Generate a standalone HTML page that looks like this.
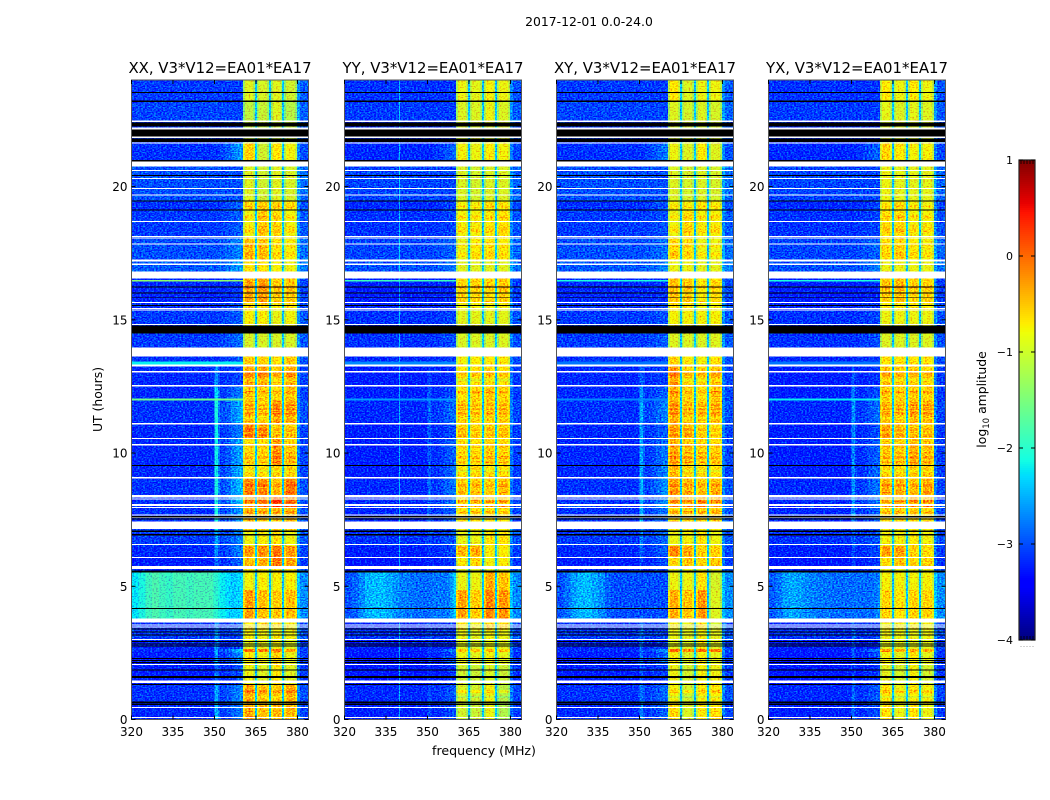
<!DOCTYPE html>
<html lang="en">
<head>
<meta charset="utf-8">
<title>2017-12-01 0.0-24.0</title>
<style>
html,body{margin:0;padding:0;background:#fff;}
svg{display:block;font-family:"DejaVu Sans","Liberation Sans",sans-serif;}
</style>
</head>
<body>
<svg id="fig" xmlns="http://www.w3.org/2000/svg" width="1050" height="800" viewBox="0 0 1050 800">
  <defs>
    <filter id="speckle" x="0" y="0" width="100%" height="100%" color-interpolation-filters="sRGB">
      <feTurbulence type="fractalNoise" baseFrequency="0.55 0.8" numOctaves="1" seed="4" result="n"/>
      <feColorMatrix in="n" type="matrix" values="0 0 0 0 .5  1 0 0 0 0  0 0 0 0 .5  0 0 0 0 1" result="g"/>
      <feComposite in="SourceGraphic" in2="g" operator="arithmetic" k1="0" k2="1" k3="1.6" k4="-0.8"/>
    </filter>
  </defs>
  <rect width="1050" height="800" fill="#fff"/>
  <text x="589" y="26" font-size="12.4" text-anchor="middle" fill="#000">2017-12-01 0.0-24.0</text>
  <text x="484" y="755" font-size="12.6" text-anchor="middle" fill="#000">frequency (MHz)</text>
  <text transform="translate(102,399.5) rotate(-90)" font-size="12.4" text-anchor="middle" fill="#000">UT (hours)</text>
  <text transform="translate(986,399.5) rotate(-90)" font-size="12.4" text-anchor="middle" fill="#000">log<tspan font-size="8.6" dy="3">10</tspan><tspan dy="-3"> amplitude</tspan></text>
  <g id="panels"></g>
  <g id="colorbar"></g>
</svg>
<script>
/* ---------- chart data ---------- */
const panelTitles = ["XX, V3*V12=EA01*EA17","YY, V3*V12=EA01*EA17","XY, V3*V12=EA01*EA17","YX, V3*V12=EA01*EA17"];
const freqTicks = [320,335,350,365,380];
const hourTicks = [0,5,10,15,20];
const colorTicks = [1,0,-1,-2,-3,-4];

/* frequency bin edges, MHz */
const freqEdges = [320,322.5,325,327.5,330,332.5,335,337.5,339.7,340.1,342.5,345,349.5,350,351.3,352,354,356,358,359.5,360.3,
  361,363.9,364.6,365.3,366,369,369.7,370.4,371.1,373.9,374.5,375.2,375.9,379.2,379.9,381,384];

/* upper UT (hours) of each data segment; the last one ends at 0 */
const rowTops = [24,23.19,22.44,21.65,20.94,19.48,19.10,18.09,17.23,16.55,15.65,15.35,14.79,14.49,13.97,13.63,13.25,12.50,11.98,11.08,10.55,9.54,9.02,8.38,7.93,7.44,7.10,6.51,6.13,5.76,5.53,4.86,3.73,3.36,2.98,2.64,2.53,2.08,1.33,0.62];

/* log10 amplitude of the off-band background per segment */
const rowBackground = [-3.0,-2.95,-3,-3.05,-2.9,-3.05,-3,-2.9,-2.85,-3.1,-3.05,-3,-2.95,-3,-3.05,-3.05,-3.1,-3.1,-3.05,-3.1,-3.1,-3.1,-3.05,-3.05,-3.05,-3,-3,-3.1,-3.15,-3.1,-3,-3,-3.05,-3,-3.1,-3.1,-3.15,-3.15,-3.05,-3.1];
/* rise below 360 MHz, per segment */
const rowEdgeRise = [0,0,0,.6,0,.3,.2,.3,.4,.1,.2,.2,.2,.3,.3,.2,.2,.5,.7,.5,.7,.8,.8,.8,.6,.4,.4,.5,.4,.3,0,0,.2,.1,.1,1,.6,.3,.5,.5];
/* strength of the 351 MHz interference line, per segment */
const rowLine351 = [0,0,0,0,0,0,0,0,0,0,0,0,0,0,0,0,.5,.9,1,1,1,1,1,1,1,.8,.5,.5,.4,.3,0,0,.4,.5,.5,.6,.6,.4,.6,.7];
const panelBackgroundOffset = [-.1,-.15,-.1,-.15];
const panelBandOffset = [-.03,-.06,-.05,-.05];
const panelEdgeRise = [.9,.5,.6,.5];
const panelLine351 = [1,.3,.6,.5];
const panelLine340 = [0,1,0,0];
const stormRows = [30,31];

/* background spectrum during the 4-5.5 h event, 20 bins below 360 MHz */
const stormXX = [-2.25,-2.1,-1.9,-1.8,-1.9,-1.95,-1.85,-1.85,-1.9,-1.9,-1.85,-1.85,-1.95,-2.0,-2.1,-2.2,-2.3,-2.4,-2.3,-2.3];
const stormYY = [-3,-2.9,-2.7,-2.5,-2.45,-2.45,-2.55,-2.65,-2.75,-2.75,-2.8,-2.85,-2.85,-2.85,-2.85,-2.8,-2.8,-2.8,-2.6,-2.35];
const stormXY = [-3,-2.85,-2.6,-2.5,-2.45,-2.55,-2.7,-2.9,-3,-3,-3,-3,-3,-3,-3,-3,-3,-3,-3,-3];
const stormYX = [-2.95,-2.8,-2.6,-2.55,-2.6,-2.7,-2.75,-2.8,-2.8,-2.8,-2.85,-2.85,-2.85,-2.85,-2.85,-2.85,-2.85,-2.85,-2.8,-2.7];

/* four sub-band levels per segment */
const bandXX = [[-.95,-1,-.95,-1.05],[-1.15,-1.1,-.95,-1.2],[-1.1,-1.1,-1.1,-1.1],[-.6,-1.05,-.75,-.85],[-.95,-1.05,-.95,-1],[-.65,-.65,-.65,-.7],[-.85,-.6,-.7,-.85],[-.5,-.55,-.75,-.8],[-.7,-.7,-.8,-.85],[-.35,-.3,-.55,-.55],[-.6,-.6,-.8,-.7],[-.8,-.8,-.9,-.85],[-1,-1,-1,-1.1],[-1,-1,-1,-1],[-1.1,-1.05,-1.1,-.95],[-.55,-.6,-.7,-.55],[-.35,-.35,-.55,-.4],[-.55,-.6,-.65,-.55],[-.5,-.6,-.3,-.4],[-.2,-.3,-.6,-.6],[-.7,-.7,-.3,-.6],[-.65,-.7,-.6,-.6],[-.2,-.25,-.5,-.15],[-.4,-.3,0,-.25],[-.5,-.5,-.5,-.5],[-.6,-.6,-.6,-.6],[-.85,-.8,-.7,-.85],[-.3,-.25,-.1,-.3],[-.5,-.4,-.1,-.35],[-.7,-.7,-.7,-.7],[-.85,-.8,-.8,-.8],[-.3,-.5,-.55,-.5],[-.75,-.7,-.75,-.8],[-.8,-.85,-.8,-.85],[-.9,-.9,-.85,-.95],[-.05,-.1,-.1,-.3],[-.75,-.85,-.6,-.9],[-.85,-.95,-.75,-.95],[-.35,-.5,-.55,-.4],[-.35,-.5,-.45,-.45]];
const bandYY = [[-.85,-.9,-.8,-.85],[-.95,-.95,-.85,-.95],[-.95,-.95,-.95,-.95],[-.8,-.85,-.75,-.8],[-.95,-1,-.95,-.95],[-.8,-.8,-.7,-.75],[-.8,-.8,-.75,-.7],[-.85,-.75,-.7,-.75],[-.9,-.9,-.9,-.9],[-.6,-.6,-.6,-.55],[-.8,-.8,-.8,-.8],[-.9,-.9,-.9,-.9],[-.95,-.95,-.95,-.95],[-.95,-.95,-.95,-.95],[-1,-1,-1,-1],[-.8,-.75,-.7,-.75],[-.7,-.7,-.6,-.7],[-.7,-.6,-.5,-.6],[-.55,-.6,-.55,-.55],[-.55,-.65,-.6,-.6],[-.7,-.7,-.6,-.65],[-.7,-.6,-.65,-.65],[-.55,-.55,-.6,-.5],[-.7,-.6,-.55,-.55],[-.7,-.7,-.7,-.7],[-.8,-.8,-.8,-.8],[-.85,-.85,-.7,-.7],[-.4,-.35,-.75,-.75],[-.75,-.6,-.8,-.75],[-.9,-.9,-.9,-.9],[-.85,-.85,-.35,-.5],[-.3,-.55,-.15,-.25],[-.7,-.8,-.6,-.7],[-.85,-.9,-.8,-.85],[-.9,-.95,-.85,-.9],[-.5,-.55,-.45,-.5],[-.85,-.9,-.8,-.9],[-1,-1.05,-.95,-1.05],[-.95,-1,-.8,-1.15],[-1,-1.05,-.85,-1.2]];
const bandXY = [[-.75,-.95,-.85,-.85],[-.95,-1,-.95,-1],[-1,-1,-1,-1],[-.85,-.95,-.75,-.95],[-.95,-1,-.95,-1],[-.8,-.8,-.75,-.8],[-.85,-.7,-.8,-.8],[-.65,-.7,-.85,-.85],[-.85,-.85,-.9,-.9],[-.5,-.55,-.75,-.65],[-.7,-.7,-.85,-.8],[-.8,-.8,-.8,-.8],[-.95,-.95,-.95,-.95],[-.95,-.95,-.95,-.95],[-1,-1,-1,-1],[-.6,-.75,-.8,-.7],[-.25,-.6,-.6,-.5],[-.4,-.6,-.7,-.5],[-.35,-.55,-.55,-.5],[-.35,-.45,-.65,-.7],[-.4,-.55,-.6,-.65],[-.4,-.6,-.65,-.7],[-.3,-.45,-.55,-.45],[-.45,-.5,-.35,-.5],[-.6,-.6,-.6,-.6],[-.8,-.8,-.8,-.8],[-.85,-.8,-.7,-.85],[-.15,-.35,-.55,-.6],[-.65,-.5,-.6,-.55],[-.85,-.85,-.85,-.85],[-.85,-.85,-.7,-1],[-.4,-.5,-.25,-.95],[-.8,-.85,-.7,-1],[-.85,-.9,-.8,-.9],[-.9,-.95,-.75,-.95],[.05,-.15,-.05,-.1],[-.8,-.95,-.8,-.9],[-.85,-1,-.8,-.85],[-.8,-1,-.75,-.75],[-.65,-.95,-.75,-.7]];
const bandYX = [[-.75,-.85,-.75,-.85],[-.9,-.95,-.9,-.95],[-.95,-.95,-.95,-.95],[-.6,-.75,-.8,-.8],[-.85,-.9,-.9,-.9],[-.75,-.7,-.8,-.85],[-.7,-.65,-.8,-.8],[-.7,-.6,-.75,-.8],[-.85,-.85,-.85,-.85],[-.5,-.45,-.6,-.6],[-.75,-.75,-.75,-.75],[-.85,-.85,-.85,-.85],[-.95,-.95,-.95,-.95],[-.95,-.95,-.95,-.95],[-1,-1,-1,-1],[-.7,-.7,-.7,-.7],[-.5,-.55,-.55,-.6],[-.55,-.6,-.55,-.6],[-.5,-.55,-.4,-.45],[-.4,-.5,-.55,-.55],[-.6,-.6,-.45,-.55],[-.6,-.6,-.55,-.55],[-.4,-.45,-.5,-.4],[-.6,-.5,-.45,-.5],[-.65,-.65,-.65,-.65],[-.8,-.8,-.8,-.8],[-.8,-.8,-.75,-.8],[-.3,-.3,-.6,-.65],[-.65,-.5,-.6,-.6],[-.85,-.85,-.85,-.85],[-.8,-.8,-.8,-.8],[-.6,-.7,-.6,-.6],[-.8,-.8,-.8,-.8],[-.85,-.85,-.85,-.85],[-.9,-.9,-.9,-.9],[-.25,-.35,-.3,-.4],[-.8,-.9,-.75,-.9],[-.9,-1,-.8,-1],[-.7,-.85,-.75,-.8],[-.7,-.85,-.7,-.85]];

/* sub-band of each in-band bin (-1 = gap) and its bandpass shape */
const bandBinSubband = [0,0,0,-1,1,1,1,-1,2,2,2,-1,3,3,3];
const bandBinShape = [-.3,.08,-.2,0,-.3,.08,-.2,0,-.3,.08,-.2,0,-.3,.08,-.2];
const gapLevel = -2.4;
const edgeRiseShape = [0,0,0,0,0,0,0,0,0,0,0,0,0,0,0,.2,.4,.7,.9,1];
const rightBinLift = [.45,.15];

/* narrow interference rows: [top hour, bottom hour, XX, YY, XY, YX] */
const rfiRows = [[16.5,16.44,-1.4,-1.9,-2.1,-2.1],[13.44,13.33,-2.2,-2.7,-2.8,-2.8],[12.04,11.98,-1.6,-2.6,-2.7,-2.2]];

/* in-band horizontal streaks: [top hour, bottom hour, level change] */
const bandStreaks = [[19.29,19.21,.2],[18.92,18.8,.2],[18.54,18.46,.15],[18.43,18.28,.2],[17.79,17.71,.15],[17.53,17.38,.15],[16.29,16.18,.2],[13.03,12.88,.2],[12.8,12.69,-.2],[12.32,12.24,.25],[11.83,11.76,.3],[11.68,11.61,.3],[11.53,11.45,.3],[11.34,11.27,-.2],[10.93,10.82,.2],[10.71,10.63,.2],[10.29,10.18,.15],[10.03,9.96,.2],[9.88,9.77,.3],[9.69,9.62,.35],[9.36,9.28,-.2],[8.83,8.72,.2],[8.57,8.49,.15],[8.23,8.12,.3],[8.04,7.97,.3],[7.82,7.74,.25],[1.11,1.0,.25],[.88,.81,-.2]];

/* flagged (no data) intervals, hours */
const whiteFlags = [[22.48,22.42],[22.21,22.14],[21.88,21.82],[21.65,21.62],[20.94,20.75],[20.62,20.59],[20.32,20.28],[19.95,19.91],[19.7,19.67],[18.71,18.67],[18.15,18.11],[18.09,18.05],[17.87,17.83],[17.27,17.19],[17.12,17.06],[16.82,16.55],[15.67,15.63],[15.45,15.41],[15.39,15.35],[14.85,14.81],[13.97,13.63],[13.33,13.25],[13.07,13.03],[12.56,12.52],[12.5,12.47],[11.12,11.08],[10.56,10.52],[10.33,10.29],[9.11,9.07],[9.05,9.02],[8.42,8.34],[8.29,8.25],[8.08,8.02],[7.97,7.93],[7.69,7.65],[7.59,7.56],[7.44,7.14],[6.58,6.54],[6.09,6.06],[5.76,5.64],[3.79,3.64],[3.56,3.53],[3.49,3.46],[3.02,2.98],[2.08,2.04],[1.46,1.37],[0.47,0.43],[0.09,0.06]];
const blackFlags = [[23.55,23.51],[23.23,23.17],[22.4,22.25],[22.14,21.88],[21.8,21.67],[20.99,20.94],[20.43,20.4],[19.48,19.44],[19.14,19.1],[16.25,16.21],[16.03,15.99],[15.84,15.81],[15.56,15.52],[14.79,14.49],[9.56,9.52],[7.63,7.59],[7.55,7.51],[7.09,7.03],[6.96,6.9],[5.59,5.51],[4.18,4.14],[3.41,3.37],[3.3,3.26],[3.19,3.15],[2.94,2.91],[2.85,2.81],[2.77,2.74],[2.31,2.27],[2.23,2.19],[2.16,2.12],[1.87,1.84],[1.63,1.56],[1.33,1.29],[0.67,0.62],[0.6,0.54]];

/* ---------- layout ---------- */
const NS = "http://www.w3.org/2000/svg";
const panelLefts = [131.5,344.5,556.5,768.5];
const plotW = 177, plotTop = 80, plotBottom = 719.5;
const bandTables = [bandXX,bandYY,bandXY,bandYX];
const stormTables = [stormXX,stormYY,stormXY,stormYX];
const BG_BINS = 20, BAND_BINS = 15;
const yScale = h => plotBottom - h * (plotBottom - plotTop) / 24;
const xScale = (left, f) => left + (f - 320) * plotW / 64;
const cbLeft = 1019, cbW = 16, cbTop = 160, cbBottom = 640;
const cbScale = v => cbBottom - (v + 4) * (cbBottom - cbTop) / 5;

function lerp(stops, t){
  for(let i = 1; i < stops.length; i++){
    if(t <= stops[i][0]){
      const a = stops[i-1], b = stops[i];
      return a[1] + (b[1] - a[1]) * (t - a[0]) / (b[0] - a[0]);
    }
  }
  return stops[stops.length-1][1];
}
const jetR = [[0,0],[.35,0],[.66,1],[.89,1],[1,.5]];
const jetG = [[0,0],[.125,0],[.375,1],[.64,1],[.91,0],[1,0]];
const jetB = [[0,.5],[.11,1],[.34,1],[.65,0],[1,0]];
function color(v){
  const t = Math.max(0, Math.min(1, (v + 4) / 5));
  const c = a => Math.round(255 * lerp(a, t));
  return "rgb(" + c(jetR) + "," + c(jetG) + "," + c(jetB) + ")";
}
function cellValue(p, r, b){
  const storm = stormRows.includes(r);
  const base = rowBackground[r] + panelBackgroundOffset[p];
  if(b < BG_BINS){
    if(storm) return stormTables[p][b];
    let v = base + edgeRiseShape[b] * rowEdgeRise[r] * panelEdgeRise[p];
    if(b === 13) v += rowLine351[r] * panelLine351[p] * 1.05;
    if(b === 14) v += rowLine351[r] * panelLine351[p] * 0.4;
    if(b === 8) v += panelLine340[p] * 0.7;
    return v;
  }
  if(b < BG_BINS + BAND_BINS){
    const s = bandBinSubband[b - BG_BINS];
    if(s < 0) return gapLevel;
    return bandTables[p][r][s] + bandBinShape[b - BG_BINS] + panelBandOffset[p];
  }
  return (storm ? -2.85 : base) + rightBinLift[b - BG_BINS - BAND_BINS];
}
function rowAt(h){
  for(let r = 0; r < rowTops.length; r++){
    const bottom = r + 1 < rowTops.length ? rowTops[r+1] : 0;
    if(h <= rowTops[r] && h > bottom) return r;
  }
  return rowTops.length - 1;
}
function make(tag, attrs, parent){
  const el = document.createElementNS(NS, tag);
  for(const k in attrs) el.setAttribute(k, attrs[k]);
  parent.appendChild(el);
  return el;
}

/* ---------- panels ---------- */
const panelsRoot = document.getElementById("panels");
panelTitles.forEach((title, p) => {
  const left = panelLefts[p];
  const g = make("g", {}, panelsRoot);
  
  

  const cells = make("g", {filter:"url(#speckle)","shape-rendering":"crispEdges"}, g);
  
  
  rowTops.forEach((top, r) => {
    const bottom = r + 1 < rowTops.length ? rowTops[r+1] : 0;
    for(let b = 0; b < freqEdges.length - 1; b++){
      const x0 = xScale(left, freqEdges[b]), x1 = xScale(left, freqEdges[b+1]);
      const y0 = yScale(top), y1 = yScale(bottom);
      const cell = make("rect", {x:x0, y:y0, width:x1-x0, height:y1-y0, fill:color(cellValue(p, r, b))}, cells);
      
      
    }
  });
  bandStreaks.forEach(s => {
    const r = rowAt((s[0] + s[1]) / 2);
    for(let i = 0; i < BAND_BINS; i++){
      if(bandBinSubband[i] < 0) continue;
      const b = BG_BINS + i;
      const x0 = xScale(left, freqEdges[b]), x1 = xScale(left, freqEdges[b+1]);
      const streak = make("rect", {x:x0, y:yScale(s[0]), width:x1-x0, height:yScale(s[1])-yScale(s[0]), fill:color(cellValue(p, r, b) + s[2])}, cells);
      
      
    }
  });

  const overlay = make("g", {"shape-rendering":"crispEdges"}, g);
  
  
  rfiRows.forEach(row => {
    const stripe = make("rect", {x:left, y:yScale(row[0]), width:xScale(left,360.3)-left, height:yScale(row[1])-yScale(row[0]), fill:color(row[2+p])}, overlay);
    
    
  });
  whiteFlags.forEach(f => {
    const flag = make("rect", {x:left, y:yScale(f[0]), width:plotW, height:yScale(f[1])-yScale(f[0]), fill:"#fff"}, overlay);
    
    
  });
  blackFlags.forEach(f => {
    const flag = make("rect", {x:left, y:yScale(f[0]), width:plotW, height:yScale(f[1])-yScale(f[0]), fill:"#000"}, overlay);
    
    
  });

  const frame = make("rect", {x:left, y:plotTop, width:plotW, height:plotBottom-plotTop, fill:"none", stroke:"#555", "stroke-width":1}, g);
  
  

  const heading = make("text", {x:left + plotW/2, y:73, "font-size":14.9, "text-anchor":"middle", fill:"#000"}, g);
  heading.textContent = title;
  
  

  freqTicks.forEach(f => {
    const x = xScale(left, f);
    const t1 = make("line", {x1:x, x2:x, y1:plotBottom, y2:plotBottom-4, stroke:"#000"}, g);
    
    
    const t2 = make("line", {x1:x, x2:x, y1:plotTop, y2:plotTop+4, stroke:"#000"}, g);
    
    
    const lab = make("text", {x:x, y:736, "font-size":12, "text-anchor":"middle", fill:"#000"}, g);
    lab.textContent = f;
    
    
  });
  hourTicks.forEach(h => {
    const y = yScale(h);
    const t1 = make("line", {x1:left, x2:left+4, y1:y, y2:y, stroke:"#000"}, g);
    
    
    const t2 = make("line", {x1:left+plotW, x2:left+plotW-4, y1:y, y2:y, stroke:"#000"}, g);
    
    
    const lab = make("text", {x:left-4, y:y+4.5, "font-size":12, "text-anchor":"end", fill:"#000"}, g);
    lab.textContent = h;
    
    
  });
});

/* ---------- colorbar ---------- */
const cb = document.getElementById("colorbar");
const cbSteps = make("g", {"shape-rendering":"crispEdges"}, cb);


for(let y = cbTop; y < cbBottom; y += 2){
  const v = -4 + 5 * (cbBottom - y - 1) / (cbBottom - cbTop);
  const step = make("rect", {x:cbLeft, y:y, width:cbW, height:2, fill:color(v)}, cbSteps);
  
  
}
const cbFrame = make("rect", {x:cbLeft, y:cbTop, width:cbW, height:cbBottom-cbTop, fill:"none", stroke:"#222", "stroke-width":1.2}, cb);


colorTicks.forEach(v => {
  const y = cbScale(v);
  const a = make("line", {x1:cbLeft, x2:cbLeft+4, y1:y, y2:y, stroke:"#000"}, cb);
  
  
  const b = make("line", {x1:cbLeft+cbW, x2:cbLeft+cbW-4, y1:y, y2:y, stroke:"#000"}, cb);
  
  
  const lab = make("text", {x:1013, y:y+4, "font-size":11, "text-anchor":"end", fill:"#000"}, cb);
  lab.textContent = String(v).replace("-", "\u2212");
  
  
});
[0,.25,.5,.75,1].forEach(fr => {
  const x = cbLeft + 2 + fr * (cbW - 4);
  const top = make("line", {x1:x, x2:x, y1:cbTop, y2:cbTop+4, stroke:"#000", "stroke-width":.8}, cb);
  
  
  const bot = make("line", {x1:x, x2:x, y1:cbBottom, y2:cbBottom-4, stroke:"#000", "stroke-width":.8}, cb);
  
  
  const dot = make("rect", {x:x-.5, y:646, width:1, height:1, fill:"#aaa"}, cb);
  
  
});
</script>
</body>
</html>
